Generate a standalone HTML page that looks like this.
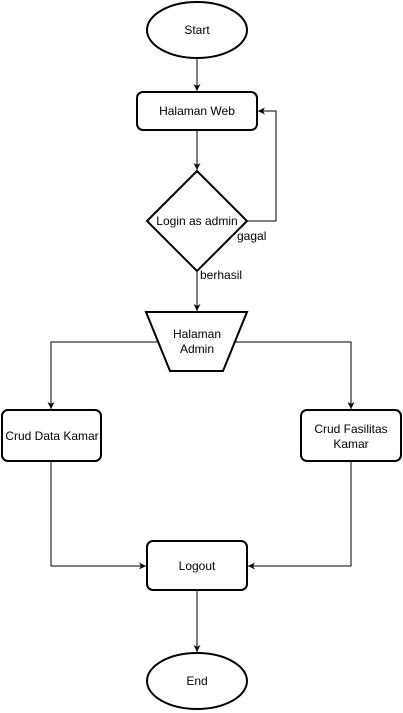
<!DOCTYPE html>
<html><head><meta charset="utf-8"><style>
html,body{margin:0;padding:0;background:#fff;}
svg{display:block;}
text{font-family:"Liberation Sans",Arial,sans-serif;font-size:12px;fill:#000;}
</style></head><body>
<svg width="403" height="713" viewBox="0 0 403 713" xmlns="http://www.w3.org/2000/svg">
<defs><marker id="a" markerWidth="8" markerHeight="8" refX="7" refY="4" orient="auto" markerUnits="userSpaceOnUse"><path d="M0,0.5 L7,4 L0,7.5 L2,4 Z" fill="#000"/></marker></defs>
<g fill="#fff" stroke="#000" stroke-width="2">
<ellipse cx="197" cy="30" rx="50" ry="28"/>
<rect x="137" y="92" width="120" height="38" rx="6"/>
<polygon points="197,171 247,221 197,271 147,221"/>
<polygon points="146,312 247,312 223,371 170,371"/>
<rect x="2" y="410" width="99" height="51" rx="6"/>
<rect x="301" y="410" width="100" height="51" rx="6"/>
<rect x="147" y="541" width="100" height="49" rx="6"/>
<ellipse cx="197" cy="681" rx="50" ry="28"/>
</g>
<g fill="none" stroke="#000" stroke-width="1">
<line x1="197" y1="58" x2="197" y2="91" marker-end="url(#a)"/>
<line x1="197" y1="130" x2="197" y2="170" marker-end="url(#a)"/>
<polyline points="247,221 276,221 276,111 258,111" marker-end="url(#a)"/>
<line x1="197" y1="271" x2="197" y2="311" marker-end="url(#a)"/>
<polyline points="158,342 51,342 51,409" marker-end="url(#a)"/>
<polyline points="235,342 351,342 351,409" marker-end="url(#a)"/>
<polyline points="51,461 51,566 146,566" marker-end="url(#a)"/>
<polyline points="351,461 351,566 248,566" marker-end="url(#a)"/>
<line x1="197" y1="590" x2="197" y2="652" marker-end="url(#a)"/>
</g>
<g text-anchor="middle">
<text x="197" y="34">Start</text>
<text x="197" y="115">Halaman Web</text>
<text x="197" y="225">Login as admin</text>
<text x="197" y="338">Halaman</text>
<text x="197" y="353">Admin</text>
<text x="52" y="440">Crud Data Kamar</text>
<text x="351" y="433">Crud Fasilitas</text>
<text x="351" y="448">Kamar</text>
<text x="197" y="570">Logout</text>
<text x="197" y="685">End</text>
</g>
<text x="237" y="240" font-size="11">gagal</text>
<text x="200" y="279" font-size="11">berhasil</text>
</svg>
</body></html>
